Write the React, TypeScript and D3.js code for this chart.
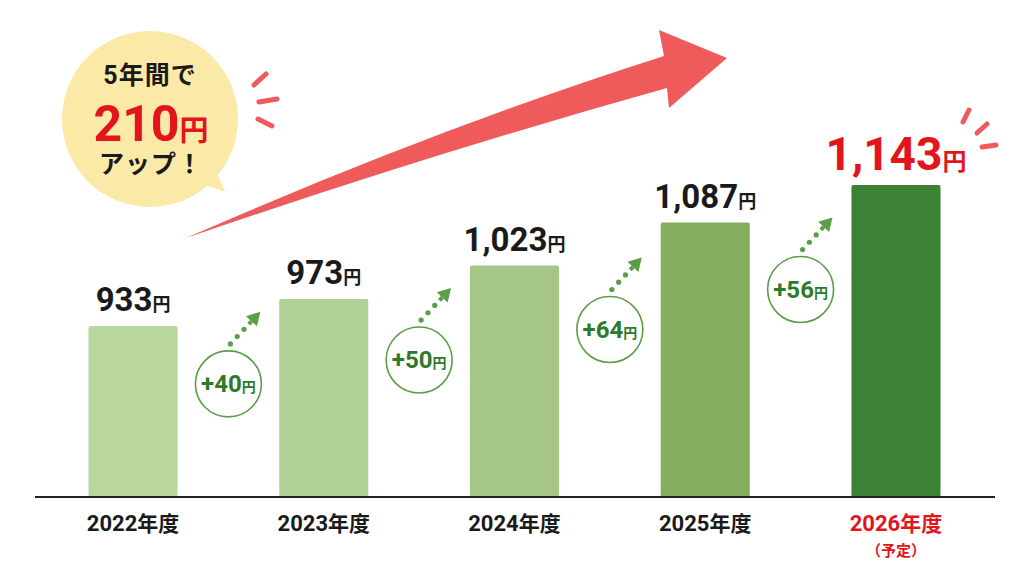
import { scaleBand, scaleLinear, path as d3path, format } from 'd3'

// chart data
const years = ['2022', '2023', '2024', '2025', '2026']
const prices = [933, 973, 1023, 1087, 1143]
const barColors = ['#b9d69f', '#b2d196', '#a5c686', '#82ae5e', '#3b8234']
const totalUp = 210

const W = 1024
const H = 576
const baseline = 497
const FONT = "Roboto, 'Noto Sans CJK JP', sans-serif"
const RED = '#e3141b'
const GREEN_TXT = '#2d7a2a'
const GREEN_LINE = '#5a9e45'

const x = scaleBand<string>()
    .domain(years)
    .range([37, 992])
    .paddingInner(0.533)
    .paddingOuter(0.27)

const y = scaleLinear()
    .domain([678, 1143])
    .range([baseline, 185])

const fmt = format(',')

// big red swoosh
function swoosh() {
    const p = d3path()
    p.moveTo(186, 238)
    p.quadraticCurveTo(435, 129, 664, 56)
    p.lineTo(659, 30)
    p.lineTo(727, 58)
    p.lineTo(669, 108)
    p.lineTo(667, 88)
    p.quadraticCurveTo(434, 153, 186, 238)
    p.closePath()
    return p.toString()
}

function Burst({ lines }: { lines: number[][] }) {
    return (
        <g stroke="#ef5a5a" strokeWidth={5} strokeLinecap="round">
            {lines.map((l, i) => <line key={i} x1={l[0]} y1={l[1]} x2={l[2]} y2={l[3]} />)}
        </g>
    )
}

function Step({ cx, cy, diff }: { cx: number, cy: number, diff: number }) {
    const ux = 0.68, uy = -0.73
    const sx = cx + 2, sy = cy - 40
    const at = (d: number) => [sx + ux * d, sy + uy * d]
    const tip = at(44)
    const b = at(31)
    const px = -uy, py = ux
    return (
        <g>
            <circle cx={cx} cy={cy} r={33} fill="#fff" stroke={GREEN_LINE} strokeWidth={1.6} />
            <text x={cx} y={cy + 8} textAnchor="middle" fontFamily={FONT} fontWeight={700} fill={GREEN_TXT}>
                <tspan fontSize={24}>+{diff}</tspan>
                <tspan fontSize={14}>円</tspan>
            </text>
            {[0, 10, 20].map(d => {
                const [dx, dy] = at(d)
                return <circle key={d} cx={dx} cy={dy} r={2.6} fill={GREEN_LINE} />
            })}
            <line x1={at(27)[0]} y1={at(27)[1]} x2={b[0]} y2={b[1]} stroke={GREEN_LINE} strokeWidth={4} />
            <path
                d={`M${tip[0]},${tip[1]}L${b[0] + px * 7.5},${b[1] + py * 7.5}L${b[0] - px * 7.5},${b[1] - py * 7.5}Z`}
                fill={GREEN_LINE}
            />
        </g>
    )
}

export default function App() {
    const bw = x.bandwidth()
    const last = years.length - 1
    return (
        <svg width={W} height={H} style={{ position: 'absolute', left: 0, top: 0, background: '#fff' }}>
            {/* swoosh */}
            <path d={swoosh()} fill="#ef5a5a" />

            {/* speech bubble */}
            <path d="M203,184 L225,192 L216,170 Z" fill="#fbe9a8" />
            <circle cx={150} cy={119} r={88} fill="#fbe9a8" />
            <text x={150} y={84} textAnchor="middle" fontFamily={FONT} fontWeight={700} fontSize={25}
                letterSpacing={1} fill="#1a1a1a">5年間で</text>
            <text x={151} y={141} textAnchor="middle" fontFamily={FONT} fontWeight={700} fill={RED}>
                <tspan fontSize={50}>{totalUp}</tspan>
                <tspan fontSize={29}>円</tspan>
            </text>
            <text x={151} y={173} textAnchor="middle" fontFamily={FONT} fontWeight={700} fontSize={25}
                letterSpacing={1} fill="#1a1a1a">アップ！</text>
            <Burst lines={[[254, 85, 266, 74], [259, 102, 277, 99], [258, 119, 272, 126]]} />
            <Burst lines={[[963, 122, 969, 110], [977, 133, 987, 124], [982, 147, 996, 145]]} />

            {/* bars */}
            {years.map((yr, i) => (
                <rect key={yr} x={x(yr)} y={y(prices[i])} width={bw} height={baseline - y(prices[i])}
                    rx={2} fill={barColors[i]} />
            ))}

            {/* value labels */}
            {years.map((yr, i) => {
                const isLast = i === last
                return (
                    <text key={yr} x={(x(yr) ?? 0) + bw / 2} y={y(prices[i]) - 15}
                        textAnchor="middle" fontFamily={FONT} fontWeight={700}
                        fill={isLast ? RED : '#1a1a1a'}>
                        <tspan fontSize={isLast ? 46 : 33}>{fmt(prices[i])}</tspan>
                        <tspan fontSize={isLast ? 24 : 18}>円</tspan>
                    </text>
                )
            })}

            {/* increments */}
            {years.slice(1).map((yr, i) => {
                const cx = ((x(years[i]) ?? 0) + bw + (x(yr) ?? 0)) / 2
                const cy = y(prices[i]) + 58 + i * 3
                return <Step key={yr} cx={cx} cy={cy} diff={prices[i + 1] - prices[i]} />
            })}

            {/* axis */}
            <line x1={35} x2={995} y1={baseline} y2={baseline} stroke="#222" strokeWidth={2} />
            {years.map((yr, i) => (
                <text key={yr} x={(x(yr) ?? 0) + bw / 2} y={531} textAnchor="middle"
                    fontFamily={FONT} fontWeight={700} fill={i === last ? RED : '#1a1a1a'}>
                    <tspan fontSize={22}>{yr}</tspan>
                    <tspan fontSize={21}>年度</tspan>
                </text>
            ))}
            <text x={(x(years[last]) ?? 0) + bw / 2} y={556} textAnchor="middle"
                fontFamily={FONT} fontWeight={700} fontSize={15} fill={RED}>（予定）</text>
        </svg>
    )
}
